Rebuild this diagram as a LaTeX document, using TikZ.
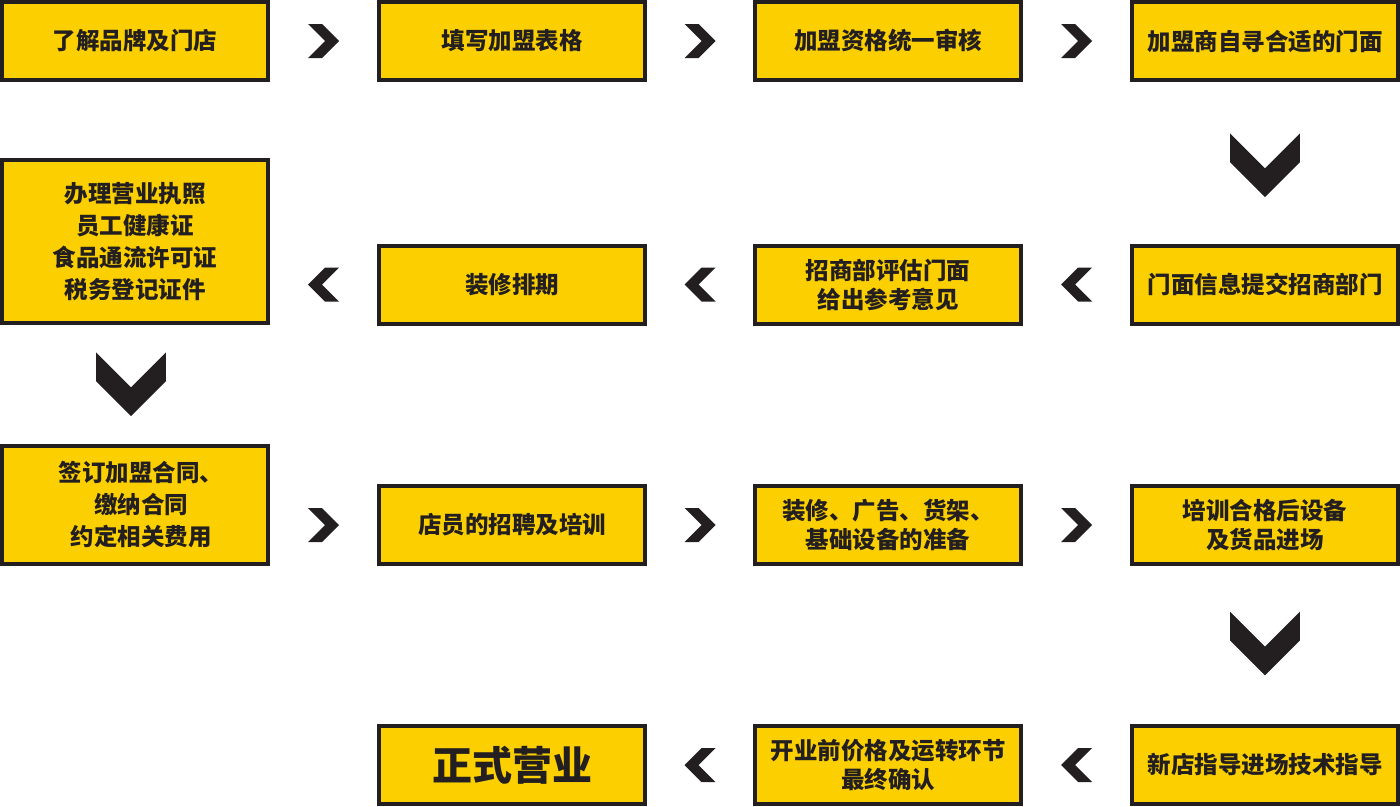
\documentclass[tikz,border=0pt]{standalone}
\usepackage{fontspec}
\newfontfamily\cjk{Noto Sans CJK SC}
\usetikzlibrary{calc}
\definecolor{boxyellow}{HTML}{FCD000}
\definecolor{ink}{HTML}{231F20}
\tikzset{
	box/.style={draw=ink,line width=4pt,fill=boxyellow,text=ink,minimum width=266pt,minimum height=78pt,inner sep=0pt,align=center,font=\cjk\bfseries\fontsize{23.5}{29}\selectfont},
	tallbox/.style={box,font=\cjk\bfseries\fontsize{23.5}{32}\selectfont},
	chev/.pic={\fill[ink] (-15.5,-17)--(-1.5,-17)--(15.5,0)--(-1.5,17)--(-15.5,17)--(1.5,0)--cycle;}
}
\begin{document}
\begin{tikzpicture}[x=1pt,y=-1pt]
	\useasboundingbox (0,0) rectangle (1400,806);
	\node[box] (brand) at (135,41) {了解品牌及门店};
	\node[box] (form) at (512,41) {填写加盟表格};
	\node[box] (audit) at (888,41) {加盟资格统一审核};
	\node[box] (site) at (1265,41) {加盟商自寻合适的门面};
	\node[box] (submit) at (1265,284.5) {门面信息提交招商部门};
	\node[box] (assess) at (888,284.5) {招商部评估门面\\给出参考意见};
	\node[box] (decor) at (512,284.5) {装修排期};
	\node[tallbox,minimum height=163pt] (permit) at (135,241.5) {办理营业执照\\员工健康证\\食品通流许可证\\税务登记证件};
	\node[tallbox,minimum height=118pt,text width=266pt,inner xsep=0pt] (contract) at (135,504.5) {\hspace*{12pt}签订加盟合同、\\\hspace*{12pt}缴纳合同\\\hspace*{12pt}约定相关费用};
	\node[box] (staff) at (512,525) {店员的招聘及培训};
	\node[box] (fitout) at (888,525) {装修、广告、货架、\\基础设备的准备};
	\node[box] (goods) at (1265,525) {培训合格后设备\\及货品进场};
	\node[box] (guide) at (1265,765) {新店指导进场技术指导};
	\node[box] (confirm) at (888,765) {开业前价格及运转环节\\最终确认};
	\node[box,font=\cjk\bfseries\fontsize{40}{44}\selectfont] (open) at (512,765) {正式营业};
	% row 1
	\pic at ($(brand.east)!.5!(form.west)$) {chev};
	\pic at ($(form.east)!.5!(audit.west)$) {chev};
	\pic at ($(audit.east)!.5!(site.west)$) {chev};
	\pic[rotate=-90,scale=2.05] at ($(site.south)!.5!(submit.north)+(0,2.5)$) {chev};
	% row 2
	\pic[xscale=-1] at ($(submit.west)!.5!(assess.east)$) {chev};
	\pic[xscale=-1] at ($(assess.west)!.5!(decor.east)$) {chev};
	\pic[xscale=-1] at ($(decor.west)!.5!(permit.east |- decor.west)$) {chev};
	\pic[rotate=-90,scale=2.05] at ($(permit.south)!.5!(contract.north)+(-4,0)$) {chev};
	% row 3
	\pic at ($(contract.east |- staff.west)!.5!(staff.west)$) {chev};
	\pic at ($(staff.east)!.5!(fitout.west)$) {chev};
	\pic at ($(fitout.east)!.5!(goods.west)$) {chev};
	\pic[rotate=-90,scale=2.05] at ($(goods.south)!.5!(guide.north)+(0,-1.5)$) {chev};
	% row 4
	\pic[xscale=-1] at ($(guide.west)!.5!(confirm.east)$) {chev};
	\pic[xscale=-1] at ($(confirm.west)!.5!(open.east)$) {chev};
\end{tikzpicture}
\end{document}
